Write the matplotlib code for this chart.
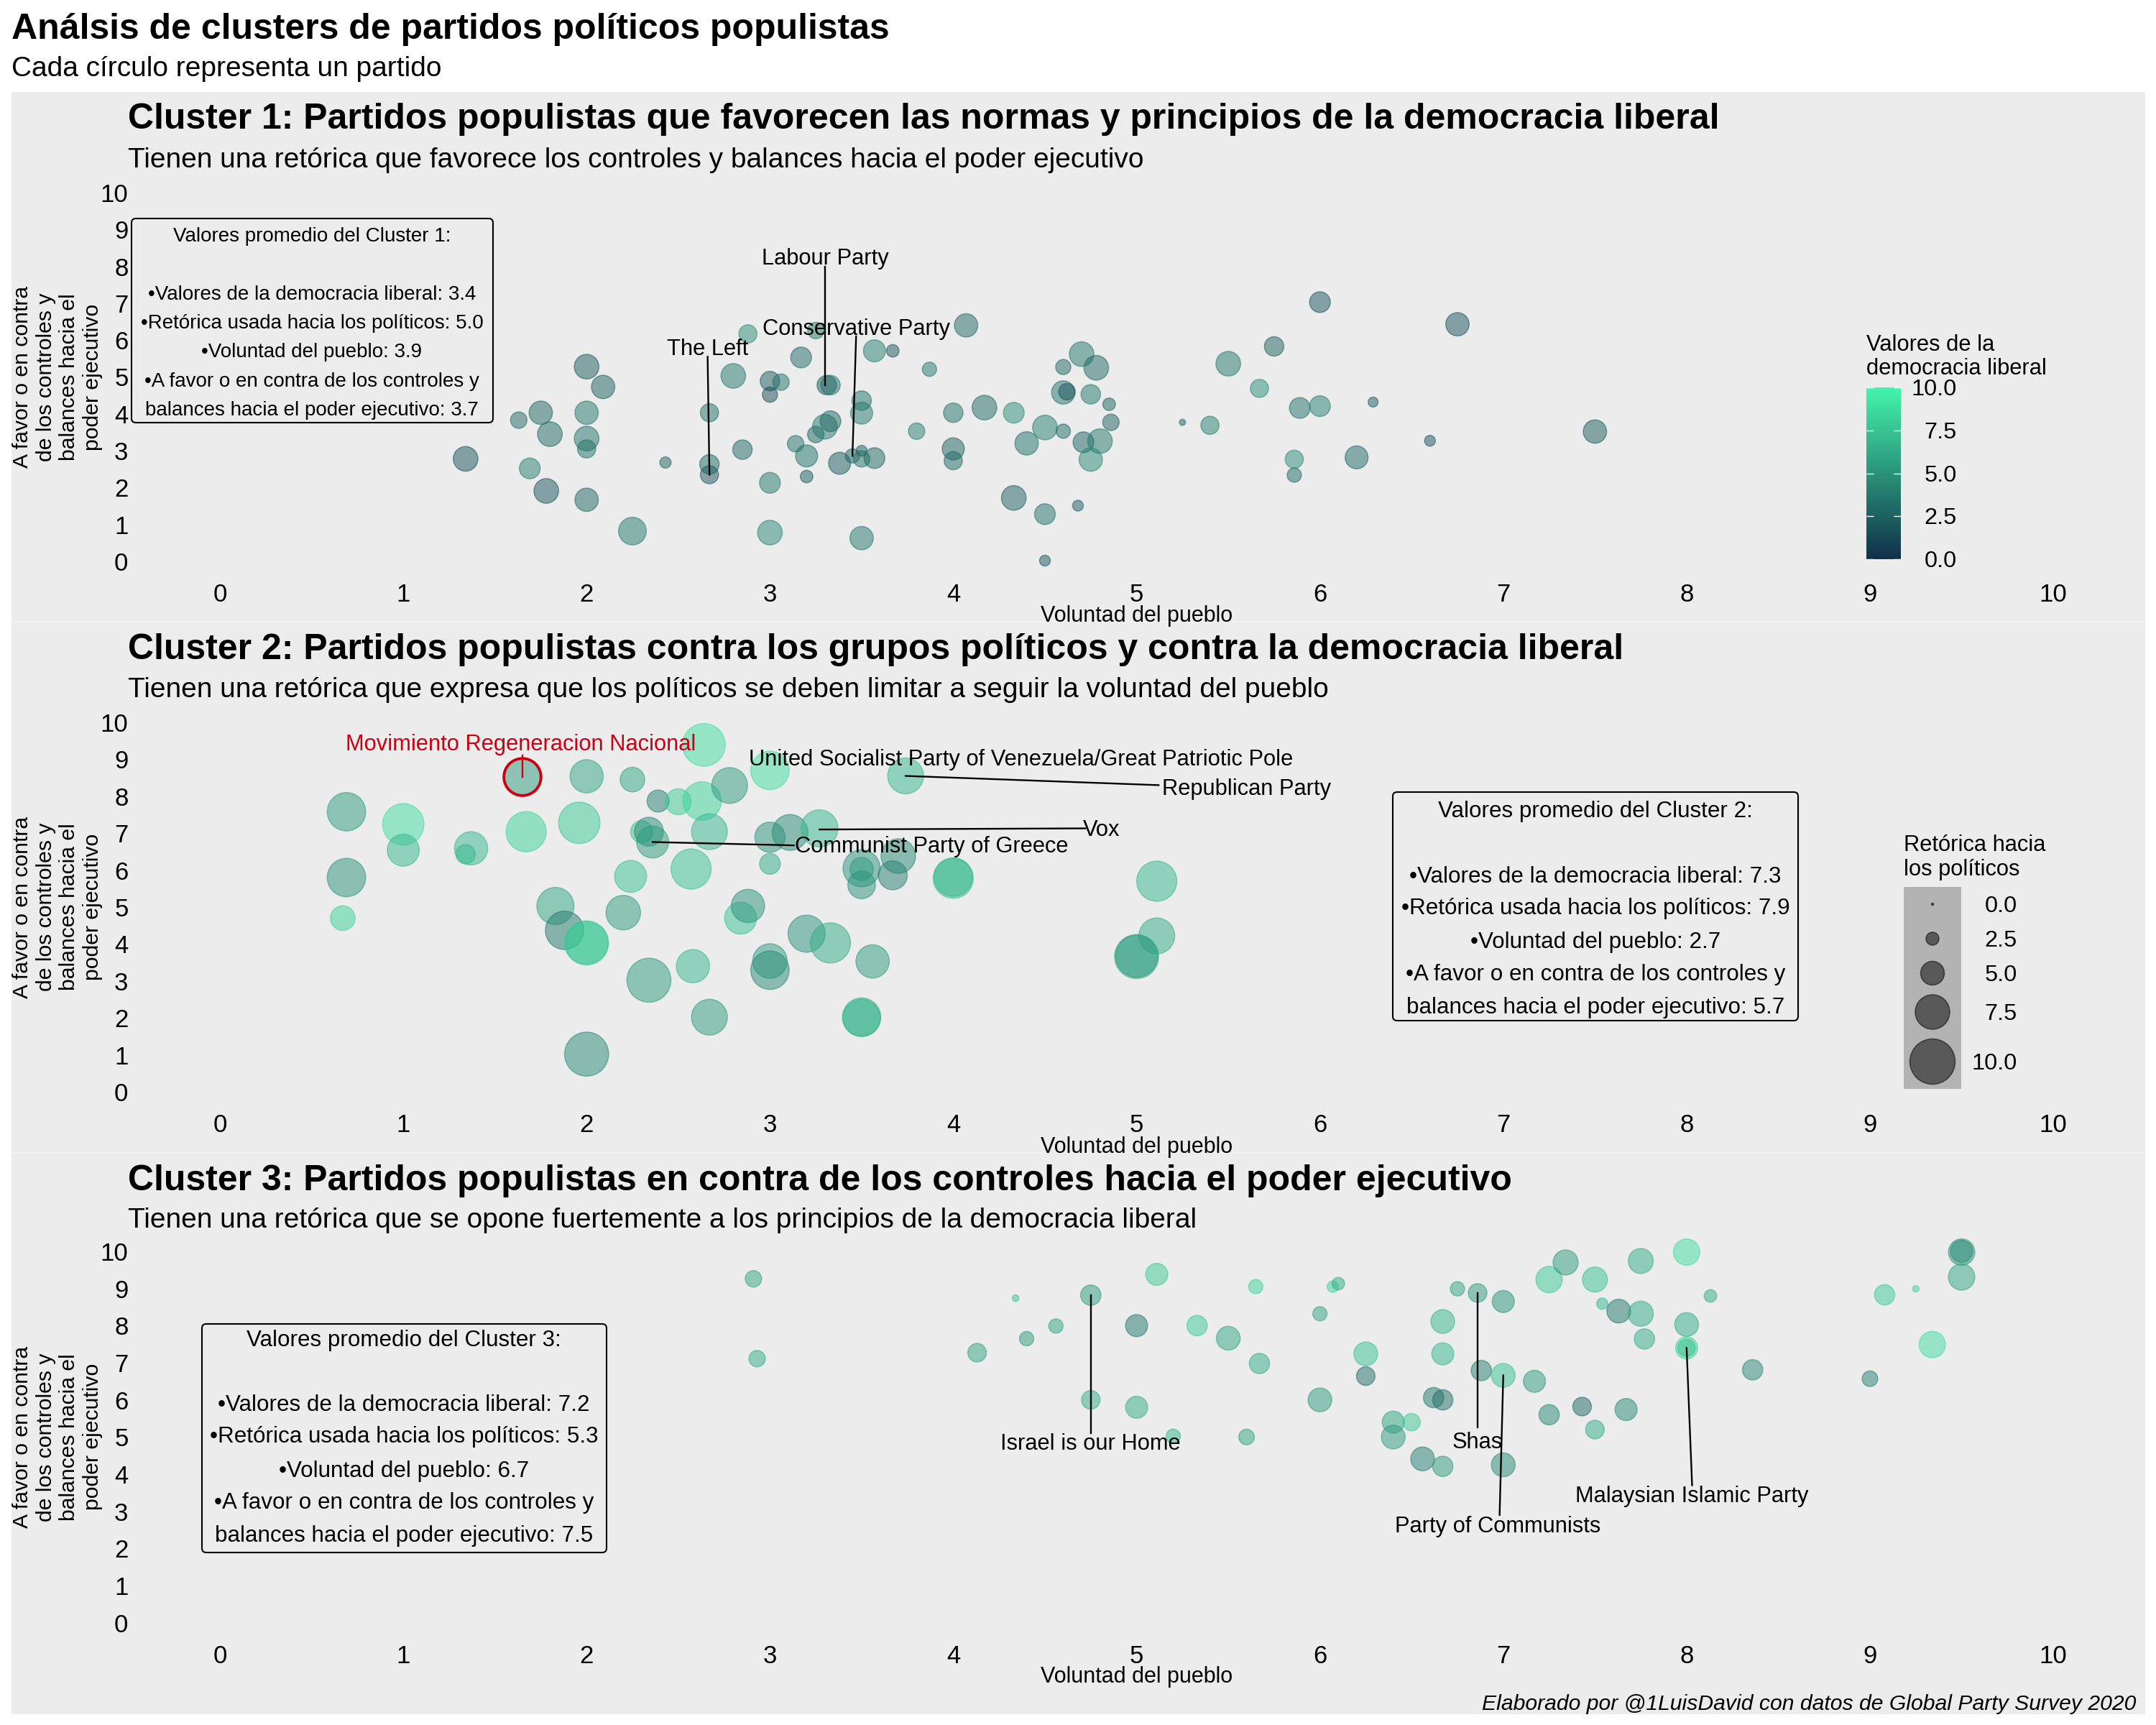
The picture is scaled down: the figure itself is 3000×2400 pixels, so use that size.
import matplotlib
matplotlib.use("Agg")
import matplotlib.pyplot as plt
from matplotlib.colors import LinearSegmentedColormap, Normalize
from matplotlib.patches import FancyBboxPatch, Rectangle
import numpy as np

plt.rcParams['font.family'] = ['Liberation Sans', 'DejaVu Sans']

# ---------- data: voluntad, controles, retorica, democracia ----------
c1_x = [1.34,1.63,1.75,1.80,1.69,1.78,2.0,2.09,2.0,2.0,2.0,2.0,2.25,2.43,2.67,2.67,2.67,2.88,2.8,2.85,3.0,3.0,3.06,3.0,3.0,3.25,3.17,3.14,3.2,3.2,3.25,3.3,3.33,3.31,3.33,3.38,3.45,3.5,3.5,3.57,3.5,3.5,3.5,3.57,3.67,3.8,3.87,4.0,4.0,4.0,4.07,4.17,4.33,4.33,4.4,4.5,4.5,4.5,4.6,4.6,4.62,4.6,4.7,4.78,4.75,4.85,4.86,4.71,4.8,4.75,4.68,5.25,5.4,5.5,5.67,5.75,5.89,6.0,5.86,5.86,6.2,6.0,6.29,6.6,6.75,7.5]
c1_y = [2.78,3.83,4.03,3.45,2.52,1.91,5.28,4.73,4.03,3.33,3.05,1.67,0.82,2.68,4.03,2.63,2.35,6.17,5.03,3.03,4.89,4.52,4.86,2.13,0.78,6.26,5.53,3.19,2.86,2.3,3.44,3.65,3.8,4.78,4.78,2.66,2.86,3.0,2.78,2.8,4.36,4.02,0.63,5.71,5.71,3.53,5.21,4.03,3.05,2.73,6.4,4.17,4.03,1.72,3.2,3.63,1.28,0.02,5.27,4.58,4.6,3.53,5.62,5.25,4.53,4.26,3.77,3.23,3.26,2.76,1.51,3.77,3.69,5.36,4.69,5.83,4.16,4.21,2.77,2.34,2.82,7.03,4.32,3.27,6.43,3.52]
c1_r = [5.2,3.3,4.9,5.2,4.3,5.2,5.2,4.9,4.9,5.2,3.7,4.9,5.9,2.1,3.7,4.0,3.7,3.7,5.2,4.0,4.0,3.0,3.3,4.3,5.2,3.3,4.3,3.3,4.6,2.4,3.3,5.2,4.3,4.0,4.0,4.6,2.8,2.0,3.3,4.3,4.0,4.6,4.9,4.6,2.4,3.3,2.8,4.0,4.6,3.7,4.9,5.2,4.3,5.2,4.9,5.2,4.3,2.0,3.0,4.9,3.3,2.8,5.2,5.2,4.0,2.4,3.3,4.3,5.2,4.9,2.0,0.9,3.7,5.2,3.7,4.0,4.3,4.3,3.7,2.8,4.8,4.3,1.8,2.0,4.9,4.9]
c1_d = [1.8,2.9,2.8,2.9,4,2,2.2,2.6,3.7,3.3,3.3,2.8,3.7,2.6,3.3,2.9,2,4.7,3.7,2.8,2.2,1.5,3.3,3.7,4.4,3.7,2.9,3.3,3.3,2.2,2.6,3.7,2.8,2.2,3.3,2.2,2.9,2.2,3.3,2.8,3.3,3.7,3.7,4,2,4,3.7,3.3,2.6,2.9,2.9,2.9,4.7,2.4,3.3,4,3.3,2,2.9,3.3,1.8,2.9,3.7,2.9,3.7,2.6,2.6,2.6,3.7,4.4,2.2,2.6,4,3.7,4.7,2.6,3.3,4,4.7,2.9,2.9,2,2.2,1.8,1.8,2.2]

c2_x = [0.69,0.69,0.67,1.0,1.0,1.37,1.34,1.67,1.65,2.0,1.96,1.83,1.88,2.0,2.0,2.0,2.25,2.2,2.24,2.34,2.39,2.3,2.34,2.36,2.5,2.63,2.64,2.78,2.67,2.57,2.58,2.67,2.84,2.88,3.0,3.0,3.0,3.11,3.27,3.0,3.0,3.2,3.33,3.56,3.5,3.5,3.5,3.5,3.5,3.7,3.67,3.74,4.0,4.0,5.11,5.11,5.0,5.0]
c2_y = [7.58,5.80,4.70,7.24,6.54,6.59,6.43,7.04,8.52,8.54,7.28,5.03,4.37,4.03,4.03,1.02,8.45,4.85,5.83,3.02,7.87,7.04,7.04,6.76,7.85,7.87,9.39,8.29,7.04,6.03,3.4,2.02,4.7,5.03,8.7,6.89,6.17,7.02,7.13,3.54,3.29,4.28,4.03,3.53,6.05,6.03,5.6,2.02,2.0,6.38,5.86,8.55,5.78,5.81,5.7,4.22,3.66,3.67]
c2_r = [8.4,8.4,5.2,9.1,6.9,7.2,4.0,8.8,8.1,7.2,9.1,8.1,8.4,9.7,9.4,9.7,5.2,7.5,6.9,9.7,4.6,4.6,6.2,6.9,5.5,8.4,9.4,7.8,7.8,8.8,7.2,7.8,6.9,7.2,8.4,6.5,4.3,7.8,8.1,7.5,8.4,8.1,8.8,7.2,8.1,4.9,5.9,8.4,8.1,7.5,6.2,7.8,8.8,8.4,8.8,7.8,9.7,9.2]
c2_d = [5.5,5,8.3,8.8,6.9,6.9,6.9,8.3,5.5,6,7.8,6,3.7,7.8,7.8,4.6,6,5.5,7.4,5.5,4.1,7.4,4.6,5.5,7.8,8.3,8.8,5.5,6.9,7.4,6.9,5.5,7.4,5.1,8.8,5.1,6.4,4.6,6.9,5.5,4.6,5.1,6.4,5.5,5.1,5.5,5.1,6.4,6.9,4.6,4.1,6.9,7.4,6.9,6.9,6.4,6,5.5]

c3_x = [2.91,2.93,4.13,4.4,4.34,4.56,4.75,4.75,5.0,5.0,5.11,5.2,5.33,5.5,5.65,5.67,5.6,6.0,6.0,6.07,6.1,6.25,6.25,6.4,6.4,6.5,6.56,6.62,6.67,6.67,6.67,6.67,6.75,6.86,6.88,7.0,7.0,7.0,7.17,7.25,7.34,7.25,7.43,7.5,7.54,7.5,7.63,7.67,7.75,7.75,7.77,8.0,8.0,8.0,8.0,8.13,8.36,9.0,9.08,9.25,9.34,9.5,9.5,9.5]
c3_y = [9.26,7.11,7.27,7.65,8.74,7.99,8.82,6.0,8.0,5.8,9.38,5.02,8.0,7.66,9.05,6.98,5.0,8.32,6.0,9.05,9.13,7.24,6.64,5.4,5.0,5.4,4.41,6.06,6.0,4.21,8.11,7.24,8.99,8.88,6.79,8.65,6.66,4.25,6.5,9.24,9.7,5.6,5.82,9.24,8.59,5.2,8.39,5.74,9.74,8.32,7.64,9.98,8.03,7.4,7.4,8.8,6.81,6.57,8.83,8.99,7.49,9.98,10.0,9.31]
c3_r = [3.3,3.3,3.8,2.8,1.0,2.8,4.2,3.8,4.6,4.6,4.6,2.8,4.2,5.0,2.8,4.2,3.1,2.8,5.0,2.1,2.4,5.0,3.8,4.6,5.0,3.5,5.0,4.2,4.2,4.2,5.0,4.6,2.8,3.8,4.2,4.6,5.0,5.0,4.6,5.6,5.3,4.2,3.8,5.3,2.1,3.8,5.0,4.6,5.3,5.3,4.2,5.6,5.0,4.6,3.5,2.4,4.2,3.1,4.2,1.0,5.6,5.6,4.6,5.6]
c3_d = [6,6.4,6,5.5,7.4,6,5.5,6.4,3.7,6.4,7.8,6.9,7.8,6,8.3,6.4,6,6,5.5,8.3,6.4,7.4,3.2,6,5.5,7.8,4.1,3.7,3.2,5.5,6.9,6.9,6,5.5,4.1,5.1,7.4,4.6,5.5,7.8,5.5,4.6,2.8,7.4,6.9,6.4,3.7,4.6,6.4,6.4,6.4,8.8,6.4,8.3,7.4,6.4,4.6,4.1,7.8,8.3,8.8,5.1,4.6,6]

colorbar_ticks = [0.0, 2.5, 5.0, 7.5, 10.0]
size_legend_values = [0.0, 2.5, 5.0, 7.5, 10.0]
x_ticks = list(range(11))
y_ticks = list(range(11))

main_title = "Análsis de clusters de partidos políticos populistas"
main_subtitle = "Cada círculo representa un partido"
caption = "Elaborado por @1LuisDavid con datos de Global Party Survey 2020"
panel_titles = ["Cluster 1: Partidos populistas que favorecen las normas y principios de la democracia liberal",
                "Cluster 2: Partidos populistas contra los grupos políticos y contra la democracia liberal",
                "Cluster 3: Partidos populistas en contra de los controles hacia el poder ejecutivo"]
panel_subtitles = ["Tienen una retórica que favorece los controles y balances hacia el poder ejecutivo",
                   "Tienen una retórica que expresa que los políticos se deben limitar a seguir la voluntad del pueblo",
                   "Tienen una retórica que se opone fuertemente a los principios de la democracia liberal"]
box_avgs = [(1, 3.4, 5.0, 3.9, 3.7), (2, 7.3, 7.9, 2.7, 5.7), (3, 7.2, 5.3, 6.7, 7.5)]

# label, text x, text y, segment start x, y, segment end x, y
notes1 = [("Labour Party", 3.3, 8.2, 3.3, 8.0, 3.3, 4.78),
          ("Conservative Party", 3.47, 6.29, 3.47, 6.1, 3.45, 2.86),
          ("The Left", 2.66, 5.75, 2.66, 5.55, 2.67, 2.35)]
notes2 = [("United Socialist Party of Venezuela/Great Patriotic Pole", 4.37, 8.98, None, None, None, None),
          ("Republican Party", 5.6, 8.2, 5.12, 8.3, 3.74, 8.55),
          ("Vox", 4.81, 7.08, 4.72, 7.13, 3.27, 7.1),
          ("Communist Party of Greece", 3.88, 6.64, 3.13, 6.67, 2.36, 6.76)]
notes3 = [("Israel is our Home", 4.75, 4.82, 4.75, 5.1, 4.75, 8.82),
          ("Shas", 6.86, 4.85, 6.86, 5.25, 6.86, 8.88),
          ("Party of Communists", 6.97, 2.58, 6.98, 2.9, 7.0, 6.66),
          ("Malaysian Islamic Party", 8.03, 3.4, 8.03, 3.7, 8.0, 7.4)]
highlight_label = "Movimiento Regeneracion Nacional"
highlight = (1.65, 8.52, 8.1)

# ---------- layout ----------
W, H, DPI = 3000, 2400, 200
fig = plt.figure(figsize=(W/DPI, H/DPI), dpi=DPI, facecolor='white')
cmap = LinearSegmentedColormap.from_list('dem', ['#113049', '#44F5AB'])
norm = Normalize(0, 10)

def diam_pt(v):
    return (3 + 6*np.asarray(v, dtype=float)) * 72/DPI

def px_axes(l, t, r, b, **kw):
    return fig.add_axes([l/W, 1-b/H, (r-l)/W, (b-t)/H], **kw)

bg = px_axes(0, 0, W, H, zorder=0)
bg.set_xlim(0, W); bg.set_ylim(H, 0); bg.axis('off')
bg.add_patch(Rectangle((16, 128), 2969, 2257, fc='#ECECEC', ec='none'))
for yy in (865, 1604):
    bg.plot([16, 2985], [yy, yy], color='#F2F2F2', lw=0.7)

ov = px_axes(0, 0, W, H, zorder=10)
ov.set_xlim(0, W); ov.set_ylim(H, 0); ov.axis('off'); ov.patch.set_alpha(0)

ov.text(16, 41, main_title, fontsize=18, fontweight='bold', va='center', ha='left')
ov.text(16, 96, main_subtitle, fontsize=14, va='center', ha='left')
ov.text(2972, 2371, caption, fontsize=10.87, style='italic', va='center', ha='right')

panels = [
    (c1_x, c1_y, c1_r, c1_d, notes1, 781, 268, 166, 223, 857),
    (c2_x, c2_y, c2_r, c2_d, notes2, 1519, 1005, 904, 960, 1596),
    (c3_x, c3_y, c3_r, c3_d, notes3, 2257.6, 1741, 1643, 1698, 2333),
]
ylab = "A favor o en contra\nde los controles y\nbalances hacia el\npoder ejecutivo"
for i, (x, y, r, d, notes, y0, y10, ty, sy, xly) in enumerate(panels):
    u = (y0 - y10)/10
    ax = px_axes(178.5, y10 - 0.5*u, 2984.6, y0 + 0.5*u, zorder=5)
    ax.patch.set_alpha(0)
    ax.set_xlim(-0.5, 10.5); ax.set_ylim(-0.5, 10.5)
    for s in ax.spines.values():
        s.set_visible(False)
    ax.set_xticks(x_ticks); ax.set_yticks(y_ticks)
    ax.tick_params(length=0, labelsize=12.5, pad=1.5)
    ax.tick_params(axis='y', pad=0)
    ax.scatter(x, y, s=diam_pt(r)**2, c=d, cmap=cmap, norm=norm, alpha=0.5,
               linewidths=0.6, edgecolors='face', clip_on=False)
    for lab, tx, ty_, sx0, sy0, sx1, sy1 in notes:
        ax.text(tx, ty_, lab, fontsize=11.1, ha='center', va='center', color='black', zorder=6)
        if sx0 is not None:
            ax.plot([sx0, sx1], [sy0, sy1], color='black', lw=0.85, zorder=6)
    if i == 1:
        hx, hy, hv = highlight
        ax.scatter([hx], [hy], s=diam_pt(hv)**2, facecolors='none', edgecolors='#CC0011', linewidths=1.4, zorder=6)
        ax.plot([hx, hx], [9.1, hy], color='#CC0011', lw=0.85, zorder=6)
        ax.text(1.64, 9.39, highlight_label, fontsize=11.1, color='#CC0011', ha='center', va='center', zorder=6)
    ov.text(178, ty, panel_titles[i], fontsize=18, fontweight='bold', va='center', ha='left')
    ov.text(178, sy, panel_subtitles[i], fontsize=14, va='center', ha='left')
    ov.text(1582, xly, "Voluntad del pueblo", fontsize=11, va='center', ha='center')
    ov.text(80, (y0+y10)/2, ylab, fontsize=10.85, rotation=90, va='center', ha='center',
            ma='center', linespacing=1.2)

# ---------- boxes ----------
def avg_lines(n, a, b, c, e):
    return [f"Valores promedio del Cluster {n}:",
            f"•Valores de la democracia liberal: {a}",
            f"•Retórica usada hacia los políticos: {b}",
            f"•Voluntad del pueblo: {c}",
            "•A favor o en contra de los controles y",
            f"balances hacia el poder ejecutivo: {e}"]

box_geo = [
    (183, 304, 686, 588, 434, [329, 410, 450, 490, 531, 571], 10.0),
    (1938, 1102, 2502, 1420, 2220, [1129, 1220, 1264, 1311, 1356, 1402], 11.3),
    (281, 1842, 844, 2160, 562, [1865, 1955, 1999, 2047, 2091, 2137], 11.3),
]
for avg, (l, t, r, b, cx, ys, fs) in zip(box_avgs, box_geo):
    ov.add_patch(FancyBboxPatch((l+6, t+6), r-l-12, b-t-12, boxstyle='round,pad=6,rounding_size=6',
                                fc='none', ec='black', lw=0.75))
    for line, yy in zip(avg_lines(*avg), ys):
        ov.text(cx, yy, line, fontsize=fs, ha='center', va='center')

# ---------- colour bar ----------
ov.text(2597, 480, "Valores de la", fontsize=11.1, va='center', ha='left')
ov.text(2597, 513, "democracia liberal", fontsize=11.1, va='center', ha='left')
cax = px_axes(2597, 539, 2645, 778, zorder=6)
grad = np.linspace(0, 10, 256)[:, None]
cax.imshow(grad, origin='lower', aspect='auto', cmap=cmap, norm=norm, extent=[0, 1, 0, 10])
cax.set_xticks([]); cax.set_yticks([])
for s in cax.spines.values():
    s.set_visible(False)
for t in colorbar_ticks:
    cax.plot([0, 0.2], [t, t], color='white', lw=0.5, solid_capstyle='butt', clip_on=True)
    cax.plot([0.8, 1], [t, t], color='white', lw=0.5, solid_capstyle='butt', clip_on=True)
    yy = 778 - (778-539)*t/10
    ov.text(2723, yy + 3, f"{t:.1f}", fontsize=11.7, va='center', ha='right')
cax.set_xlim(0, 1); cax.set_ylim(0, 10)

# ---------- size legend ----------
ov.text(2649, 1176, "Retórica hacia", fontsize=11.1, va='center', ha='left')
ov.text(2649, 1210, "los políticos", fontsize=11.1, va='center', ha='left')
ov.add_patch(Rectangle((2649, 1234), 80, 281, fc='#B3B3B3', ec='none', zorder=1))
leg_y = [1258, 1306, 1354, 1408, 1477]
ov.scatter([2689]*5, leg_y, s=diam_pt(size_legend_values)**2, c='black', alpha=0.5,
           linewidths=0.6, edgecolors='black', zorder=2)
for v, yy in zip(size_legend_values, leg_y):
    ov.text(2807, yy + 3, f"{v:.1f}", fontsize=11.7, va='center', ha='right')

fig.savefig('out.png', dpi=DPI)
